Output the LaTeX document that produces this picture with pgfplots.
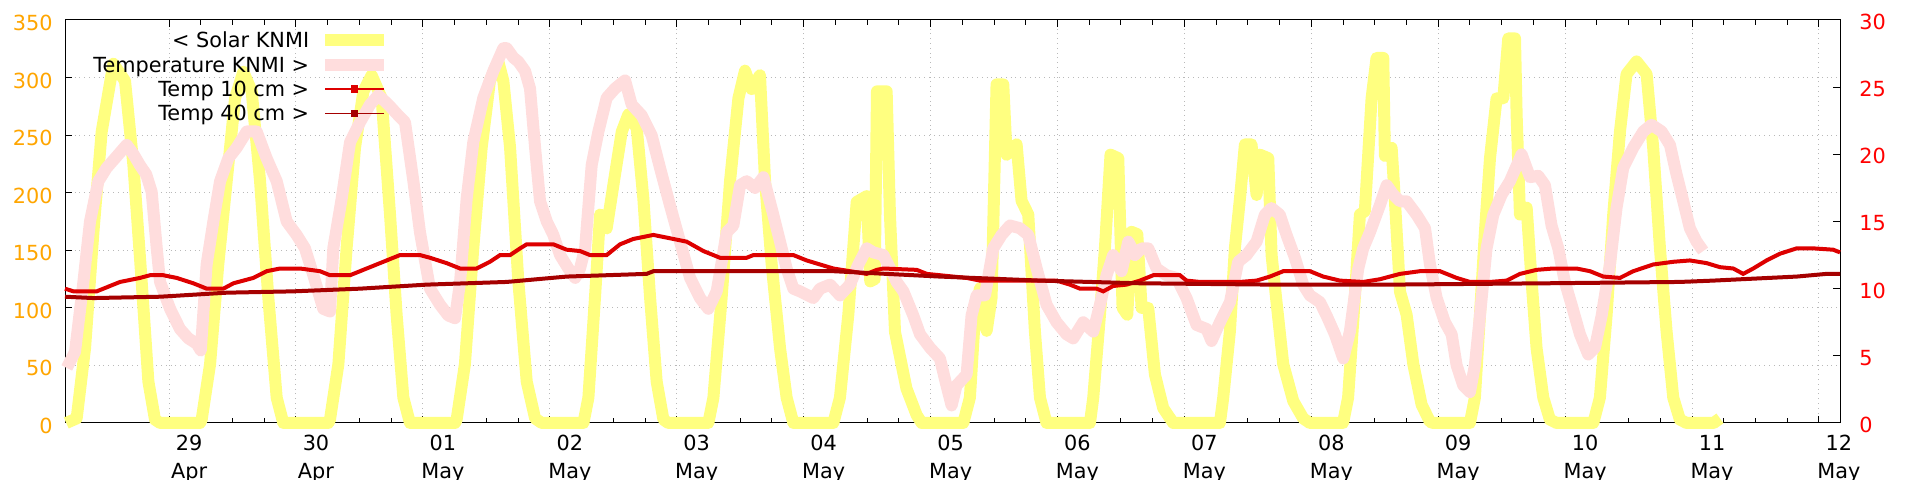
\documentclass[border=0pt]{standalone}
\usepackage{pgfplots}
\pgfplotsset{compat=1.18}
\usepackage{fontspec}
\setmainfont{DejaVu Sans}
\definecolor{solar}{RGB}{255,255,128}
\definecolor{tempk}{RGB}{255,221,221}
\definecolor{tten}{RGB}{221,0,0}
\definecolor{tforty}{RGB}{165,0,0}
\definecolor{laborange}{RGB}{255,165,0}
\begin{document}
\begin{tikzpicture}[font=\fontsize{10.4}{14}\selectfont]
\pgfplotsset{
 common/.style={
  scale only axis, width=887.5pt, height=201.5pt,
  xmin=0.18, xmax=14.166, clip=false,
  /pgf/number format/assume math mode=true,
  tick align=inside,
  major tick length=3.5pt, minor tick length=2.5pt,
  axis line style={line width=0.5pt},
  every tick/.style={black, line width=0.5pt},
 }
}
\begin{axis}[common, at={(0,0)}, anchor=south west,
 ymin=0, ymax=350, ytick={0,50,...,350}, ytick pos=left,
 xtick={1,...,14}, minor x tick num=3,
 xticklabels={29\\Apr,30\\Apr,01\\May,02\\May,03\\May,04\\May,05\\May,06\\May,07\\May,08\\May,09\\May,10\\May,11\\May,12\\May},
 xticklabel style={align=center, anchor=north, inner sep=0pt, yshift=-6pt, xshift=10pt, font=\fontsize{10.4}{14}\selectfont},
 yticklabel style={anchor=east, inner sep=0pt, xshift=-6pt, yshift=-1.5pt, text=laborange},
 xmajorgrids, ymajorgrids,
 grid style={dotted, gray!55, line width=0.5pt},
]
\addplot[solar, line width=6pt, line join=round] coordinates {
(0.19,0) (0.272,4) (0.338,65) (0.404,166) (0.469,253) (0.561,312) (0.653,297) (0.719,224) (0.784,123) (0.837,36) (0.889,3) (0.929,0)
(1.244,0) (1.257,3) (1.323,51) (1.388,138) (1.454,210) (1.520,282) (1.585,305) (1.651,288) (1.717,210) (1.782,109) (1.848,22) (1.900,0)
(2.255,0) (2.268,3) (2.334,51) (2.399,152) (2.465,239) (2.531,288) (2.596,302) (2.675,282) (2.741,181) (2.793,94) (2.846,22) (2.898,0)
(3.253,0) (3.266,3) (3.331,51) (3.397,152) (3.463,239) (3.528,297) (3.594,314) (3.634,297) (3.687,239) (3.752,123) (3.818,36) (3.884,4) (3.936,0)
(4.265,0) (4.304,22) (4.356,109) (4.396,181) (4.448,169) (4.514,216) (4.567,253) (4.619,268) (4.685,256) (4.737,195) (4.790,109) (4.842,36) (4.895,3) (4.934,0)
(5.249,0) (5.289,22) (5.354,109) (5.420,210) (5.486,282) (5.538,306) (5.59,290) (5.656,302) (5.696,210) (5.748,138) (5.814,65) (5.866,22) (5.919,0)
(6.234,0) (6.286,22) (6.352,94) (6.418,192) (6.497,197) (6.525,123) (6.56,125) (6.578,288) (6.654,288) (6.68,181) (6.72,79) (6.81,30) (6.89,7) (6.93,0)
(7.258,0) (7.310,22) (7.350,94) (7.389,117) (7.442,80) (7.481,109) (7.520,294) (7.573,294) (7.599,233) (7.678,242) (7.717,193) (7.770,181) (7.822,80) (7.862,22) (7.914,0)
(8.256,0) (8.282,22) (8.335,94) (8.374,152) (8.418,233) (8.479,230) (8.513,100) (8.550,94) (8.584,166) (8.629,164) (8.663,100) (8.715,100) (8.768,42) (8.833,13) (8.912,0)
(9.28,0) (9.306,22) (9.359,80) (9.398,152) (9.438,195) (9.477,242) (9.529,242) (9.569,198) (9.595,233) (9.661,230) (9.687,146) (9.726,105) (9.779,51) (9.858,19) (9.936,4) (9.989,0)
(10.25,0) (10.29,22) (10.343,109) (10.383,181) (10.422,184) (10.475,282) (10.514,317) (10.567,317) (10.58,232) (10.633,239) (10.659,193) (10.699,114) (10.751,94) (10.804,51) (10.869,16) (10.935,1) (10.961,0)
(11.25,0) (11.289,22) (11.329,94) (11.368,166) (11.408,230) (11.46,282) (11.513,282) (11.552,334) (11.605,334) (11.618,267) (11.644,181) (11.697,187) (11.736,123) (11.775,65) (11.828,22) (11.88,3) (11.933,0)
(12.222,0) (12.274,22) (12.327,94) (12.379,181) (12.432,253) (12.484,303) (12.563,314) (12.642,303) (12.694,239) (12.747,152) (12.799,80) (12.852,22) (12.904,3) (12.957,0) (13.17,0) (13.22,4)
};
\end{axis}
\begin{axis}[common, at={(0,0)}, anchor=south west,
 ymin=0, ymax=30, ytick={0,5,...,30},
 axis y line*=right, hide x axis,
 yticklabel style={anchor=west, inner sep=0pt, xshift=9.5pt, yshift=-1pt, text=red},
 legend plot pos=right, legend cell align=right,
 legend style={draw=none, fill=none, at={(0.1834,0.981)}, anchor=north east,
   inner xsep=0pt, inner ysep=0pt, column sep=4.6pt, row sep=0pt,
   nodes={inner sep=0.4pt, text height=9.4pt, text depth=2pt},
   font=\fontsize{10.4}{14}\selectfont},
]
\addlegendimage{legend image code/.code={\draw[solar, line width=6pt] (0pt,0pt) -- (29.5pt,0pt);}}
\addlegendentry{< Solar KNMI}
\addplot[tempk, line width=6pt, line join=round,
 legend image code/.code={\draw[tempk, line width=6pt] (0pt,0pt) -- (29.5pt,0pt);}] coordinates {
(0.194,4.1) (0.259,5.3) (0.325,10.5) (0.377,15.0) (0.443,18.0) (0.509,19.0) (0.574,19.7) (0.666,20.7) (0.72,20.0) (0.77,19.2) (0.82,18.5) (0.863,17.2) (0.903,13.0) (0.929,10.5) (1.008,8.5) (1.086,7.0) (1.152,6.3) (1.218,5.9) (1.25,5.4) (1.296,11.8) (1.349,15.0) (1.402,18.0) (1.467,19.7) (1.533,20.5) (1.612,21.7) (1.690,21.7) (1.769,19.7) (1.848,18.0) (1.927,15.0) (2.005,14.0) (2.071,13.0) (2.137,11.0) (2.215,8.5) (2.268,8.3) (2.294,13.0) (2.36,16.7) (2.426,20.9) (2.505,22.4) (2.583,23.7) (2.649,24.4) (2.728,23.7) (2.806,22.9) (2.859,22.4) (2.925,18.0) (2.977,14.2) (3.056,10.0) (3.135,8.8) (3.2,8.0) (3.253,7.8) (3.293,10.5) (3.345,16.7) (3.397,20.9) (3.476,24.2) (3.555,26.2) (3.634,27.9)
(3.66,27.9) (3.713,27.2) (3.752,26.9) (3.805,26.2) (3.844,24.9) (3.884,20.5) (3.923,16.5) (3.976,15.0) (4.028,14.0) (4.081,12.5) (4.146,11.5) (4.2,10.8) (4.238,11.5) (4.278,13.0) (4.33,19.2) (4.383,21.7) (4.448,24.2) (4.514,24.9) (4.593,25.5) (4.645,23.7) (4.724,22.9) (4.803,21.4) (4.868,19.0) (4.947,16.2) (5.026,13.5) (5.105,10.8) (5.184,9.3) (5.249,8.5) (5.315,9.8) (5.394,14.2) (5.446,14.7) (5.499,17.7) (5.551,18.0) (5.617,17.5) (5.683,18.3) (5.761,15.5) (5.814,13.5) (5.866,11.5) (5.919,10.0) (5.971,9.8) (6.076,9.3) (6.129,10.0) (6.208,10.3) (6.286,9.5) (6.365,10.3) (6.431,11.8) (6.497,13.0) (6.549,12.7) (6.628,12.5) (6.681,11.5) (6.733,10.5) (6.786,9.8) (6.864,8.0) (6.917,6.6) (6.996,5.6)
(7.074,4.8) (7.12,3.0) (7.166,1.3) (7.205,2.8) (7.284,3.6) (7.323,8.0) (7.363,9.5) (7.429,9.5) (7.494,13.0) (7.56,14.0) (7.626,14.7) (7.704,14.5) (7.77,14.0) (7.836,11.5) (7.914,8.8) (7.993,7.5) (8.072,6.6) (8.124,6.3) (8.203,7.5) (8.282,6.8) (8.335,8.8) (8.387,11.0) (8.439,12.5) (8.505,11.3) (8.558,13.5) (8.61,12.5) (8.663,13.0) (8.715,13.0) (8.781,11.5) (8.859,11.0) (8.938,10.8) (9.017,9.3) (9.096,7.3) (9.175,7.0) (9.214,6.1) (9.28,7.5) (9.359,9.0) (9.424,12.0) (9.49,12.5) (9.569,13.5) (9.634,15.5) (9.687,16.0) (9.752,15.5) (9.805,14.0) (9.871,12.3) (9.936,10.3) (9.989,9.5) (10.068,9.0) (10.12,8.0) (10.186,6.6) (10.252,4.8) (10.304,6.8) (10.37,11.5) (10.409,13.0) (10.462,14.2) (10.54,16.2) (10.594,17.7) (10.646,17.0) (10.699,16.5) (10.751,16.5) (10.83,15.5) (10.896,14.5) (10.935,11.8) (10.988,9.3) (11.053,7.5) (11.106,6.6) (11.145,4.3) (11.197,2.8) (11.25,2.3) (11.289,4.3) (11.329,8.0) (11.381,13.0) (11.434,15.5) (11.5,17.0) (11.565,18.0) (11.657,20.0) (11.723,18.3) (11.788,18.4) (11.841,17.7) (11.893,14.7) (11.946,13.0) (11.998,10.5) (12.051,8.8) (12.117,6.6) (12.182,5.1) (12.235,5.6) (12.288,8.0) (12.353,11.8) (12.405,16.0) (12.458,19.0) (12.537,20.5) (12.616,21.7) (12.681,22.2) (12.76,21.7) (12.826,20.7) (12.878,18.5) (12.931,16.5) (12.983,14.5) (13.036,13.5) (13.088,12.8)
};
\addlegendentry{Temperature KNMI >}
\addplot[tten, line width=2pt,
 legend image code/.code={\draw[tten, line width=0.75pt] (0pt,0pt) -- (29.5pt,0pt); \fill[tten] (14pt,-0.8pt) rectangle (15.6pt,0.8pt);}] coordinates {
(0.18,10.0) (0.246,9.8) (0.43,9.8) (0.535,10.2) (0.614,10.5) (0.771,10.8) (0.85,11.0) (0.955,11.0) (1.06,10.8) (1.191,10.4) (1.296,10.0) (1.428,10.0) (1.507,10.4) (1.664,10.8) (1.769,11.3) (1.874,11.5) (2.032,11.5) (2.189,11.3) (2.268,11.0) (2.426,11.0) (2.557,11.5) (2.688,12.0) (2.819,12.5) (2.977,12.5) (3.056,12.3) (3.187,11.9) (3.293,11.5) (3.423,11.5) (3.528,12.0) (3.608,12.5) (3.687,12.5) (3.766,13.0) (3.818,13.3) (4.028,13.3) (4.133,12.9) (4.238,12.8) (4.317,12.5) (4.448,12.5) (4.553,13.3) (4.658,13.7) (4.816,14.0) (4.973,13.7) (5.078,13.5) (5.21,12.8) (5.341,12.3) (5.551,12.3) (5.604,12.5) (5.919,12.5) (6.024,12.1) (6.129,11.8) (6.234,11.5) (6.365,11.3) (6.497,11.1) (6.576,11.4) (6.628,11.5) (6.891,11.4) (6.97,11.1) (7.074,11.0) (7.284,10.8) (7.389,10.6) (7.993,10.6) (8.098,10.3) (8.177,10.0) (8.308,10.0) (8.361,9.8) (8.439,10.2) (8.544,10.3) (8.65,10.6) (8.755,11.0) (8.965,11.0) (9.017,10.6) (9.122,10.5) (9.438,10.5) (9.569,10.6) (9.674,10.9) (9.779,11.3) (9.989,11.3) (10.094,10.9) (10.225,10.6) (10.409,10.5) (10.54,10.7) (10.699,11.1) (10.856,11.3) (11.014,11.3) (11.145,10.8) (11.25,10.5) (11.408,10.5) (11.539,10.6) (11.644,11.1) (11.775,11.4) (11.906,11.5) (12.09,11.5) (12.196,11.3) (12.301,10.9) (12.432,10.8) (12.537,11.3) (12.694,11.8) (12.852,12.0) (12.983,12.1) (13.115,11.9) (13.22,11.6) (13.325,11.5) (13.403,11.1) (13.482,11.5) (13.587,12.1) (13.692,12.6) (13.824,13.0) (13.955,13.0) (14.112,12.9) (14.166,12.7)
};
\addlegendentry{Temp 10 cm >}
\addplot[tforty, line width=2pt,
 legend image code/.code={\draw[tforty, line width=0.75pt] (0pt,0pt) -- (29.5pt,0pt); \fill[tforty] (14pt,-0.8pt) rectangle (15.6pt,0.8pt);}] coordinates {
(0.18,9.4) (0.404,9.3) (0.929,9.4) (1.454,9.7) (1.979,9.8) (2.505,10.0) (3.03,10.3) (3.66,10.5) (4.133,10.9) (4.763,11.1) (4.816,11.3) (6.234,11.3) (7.074,10.9) (7.862,10.6) (8.65,10.4) (9.7,10.3) (10.62,10.3) (11.854,10.4) (12.904,10.5) (13.167,10.6) (13.824,10.9) (14.06,11.1) (14.166,11.1)
};
\addlegendentry{Temp 40 cm >}
\end{axis}
\pgfresetboundingbox
\path[use as bounding box] (-32.5pt,-28.5pt) rectangle (927.5pt,211.5pt);
\end{tikzpicture}
\end{document}
